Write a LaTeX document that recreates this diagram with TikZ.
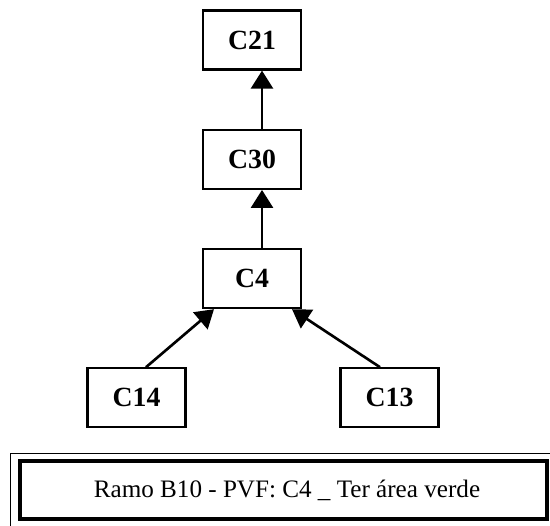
\documentclass[tikz,border=0pt]{standalone}
\usepackage{fontspec}
\setmainfont{Liberation Serif}
\usetikzlibrary{positioning, fit, arrows.meta}

\begin{document}
\begin{tikzpicture}[
  node distance=1.16cm,
  item/.style={draw, line width=1.3pt, minimum width=1.96cm, minimum height=1.18cm, inner sep=2pt, font=\fontsize{15.8}{18}\selectfont\bfseries},
  ar/.style={-{Triangle[length=3.6mm, width=4.4mm]}, line width=1.5pt},
  frame/.style={draw, line width=2.4pt, minimum width=10.54cm, minimum height=1.16cm, font=\fontsize{14.3}{17}\selectfont}
]
\useasboundingbox (0,0) rectangle (11,-10.52);

% Chain of boxes
\node[item] (c21) at (5.04,-0.80) {C21};
\node[item, below=of c21] (c30) {C30};
\node[item, below=of c30] (c4) {C4};
\node[item, below=of c4, xshift=-2.31cm] (c14) {C14};
\node[item, below=of c4, xshift=2.75cm] (c13) {C13};

% Arrows up the chain
\draw[ar] ([xshift=0.2cm]c30.north) -- ([xshift=0.2cm]c21.south);
\draw[ar] ([xshift=0.2cm]c4.north) -- ([xshift=0.2cm]c30.south);
\draw[ar] ([xshift=0.19cm]c14.north) -- ([xshift=-0.76cm]c4.south);
\draw[ar] ([xshift=-0.19cm]c13.north) -- ([xshift=0.8cm]c4.south);

% Caption box with double frame
\node[frame] (caption) at (5.67,-9.80) {\hspace*{0.14cm}Ramo B10 - PVF: C4 \_ Ter área verde};
\node[draw, line width=0.6pt, inner xsep=0.15cm, inner ysep=0.10cm, fit=(caption)] (outer) {};

\end{tikzpicture}
\end{document}
